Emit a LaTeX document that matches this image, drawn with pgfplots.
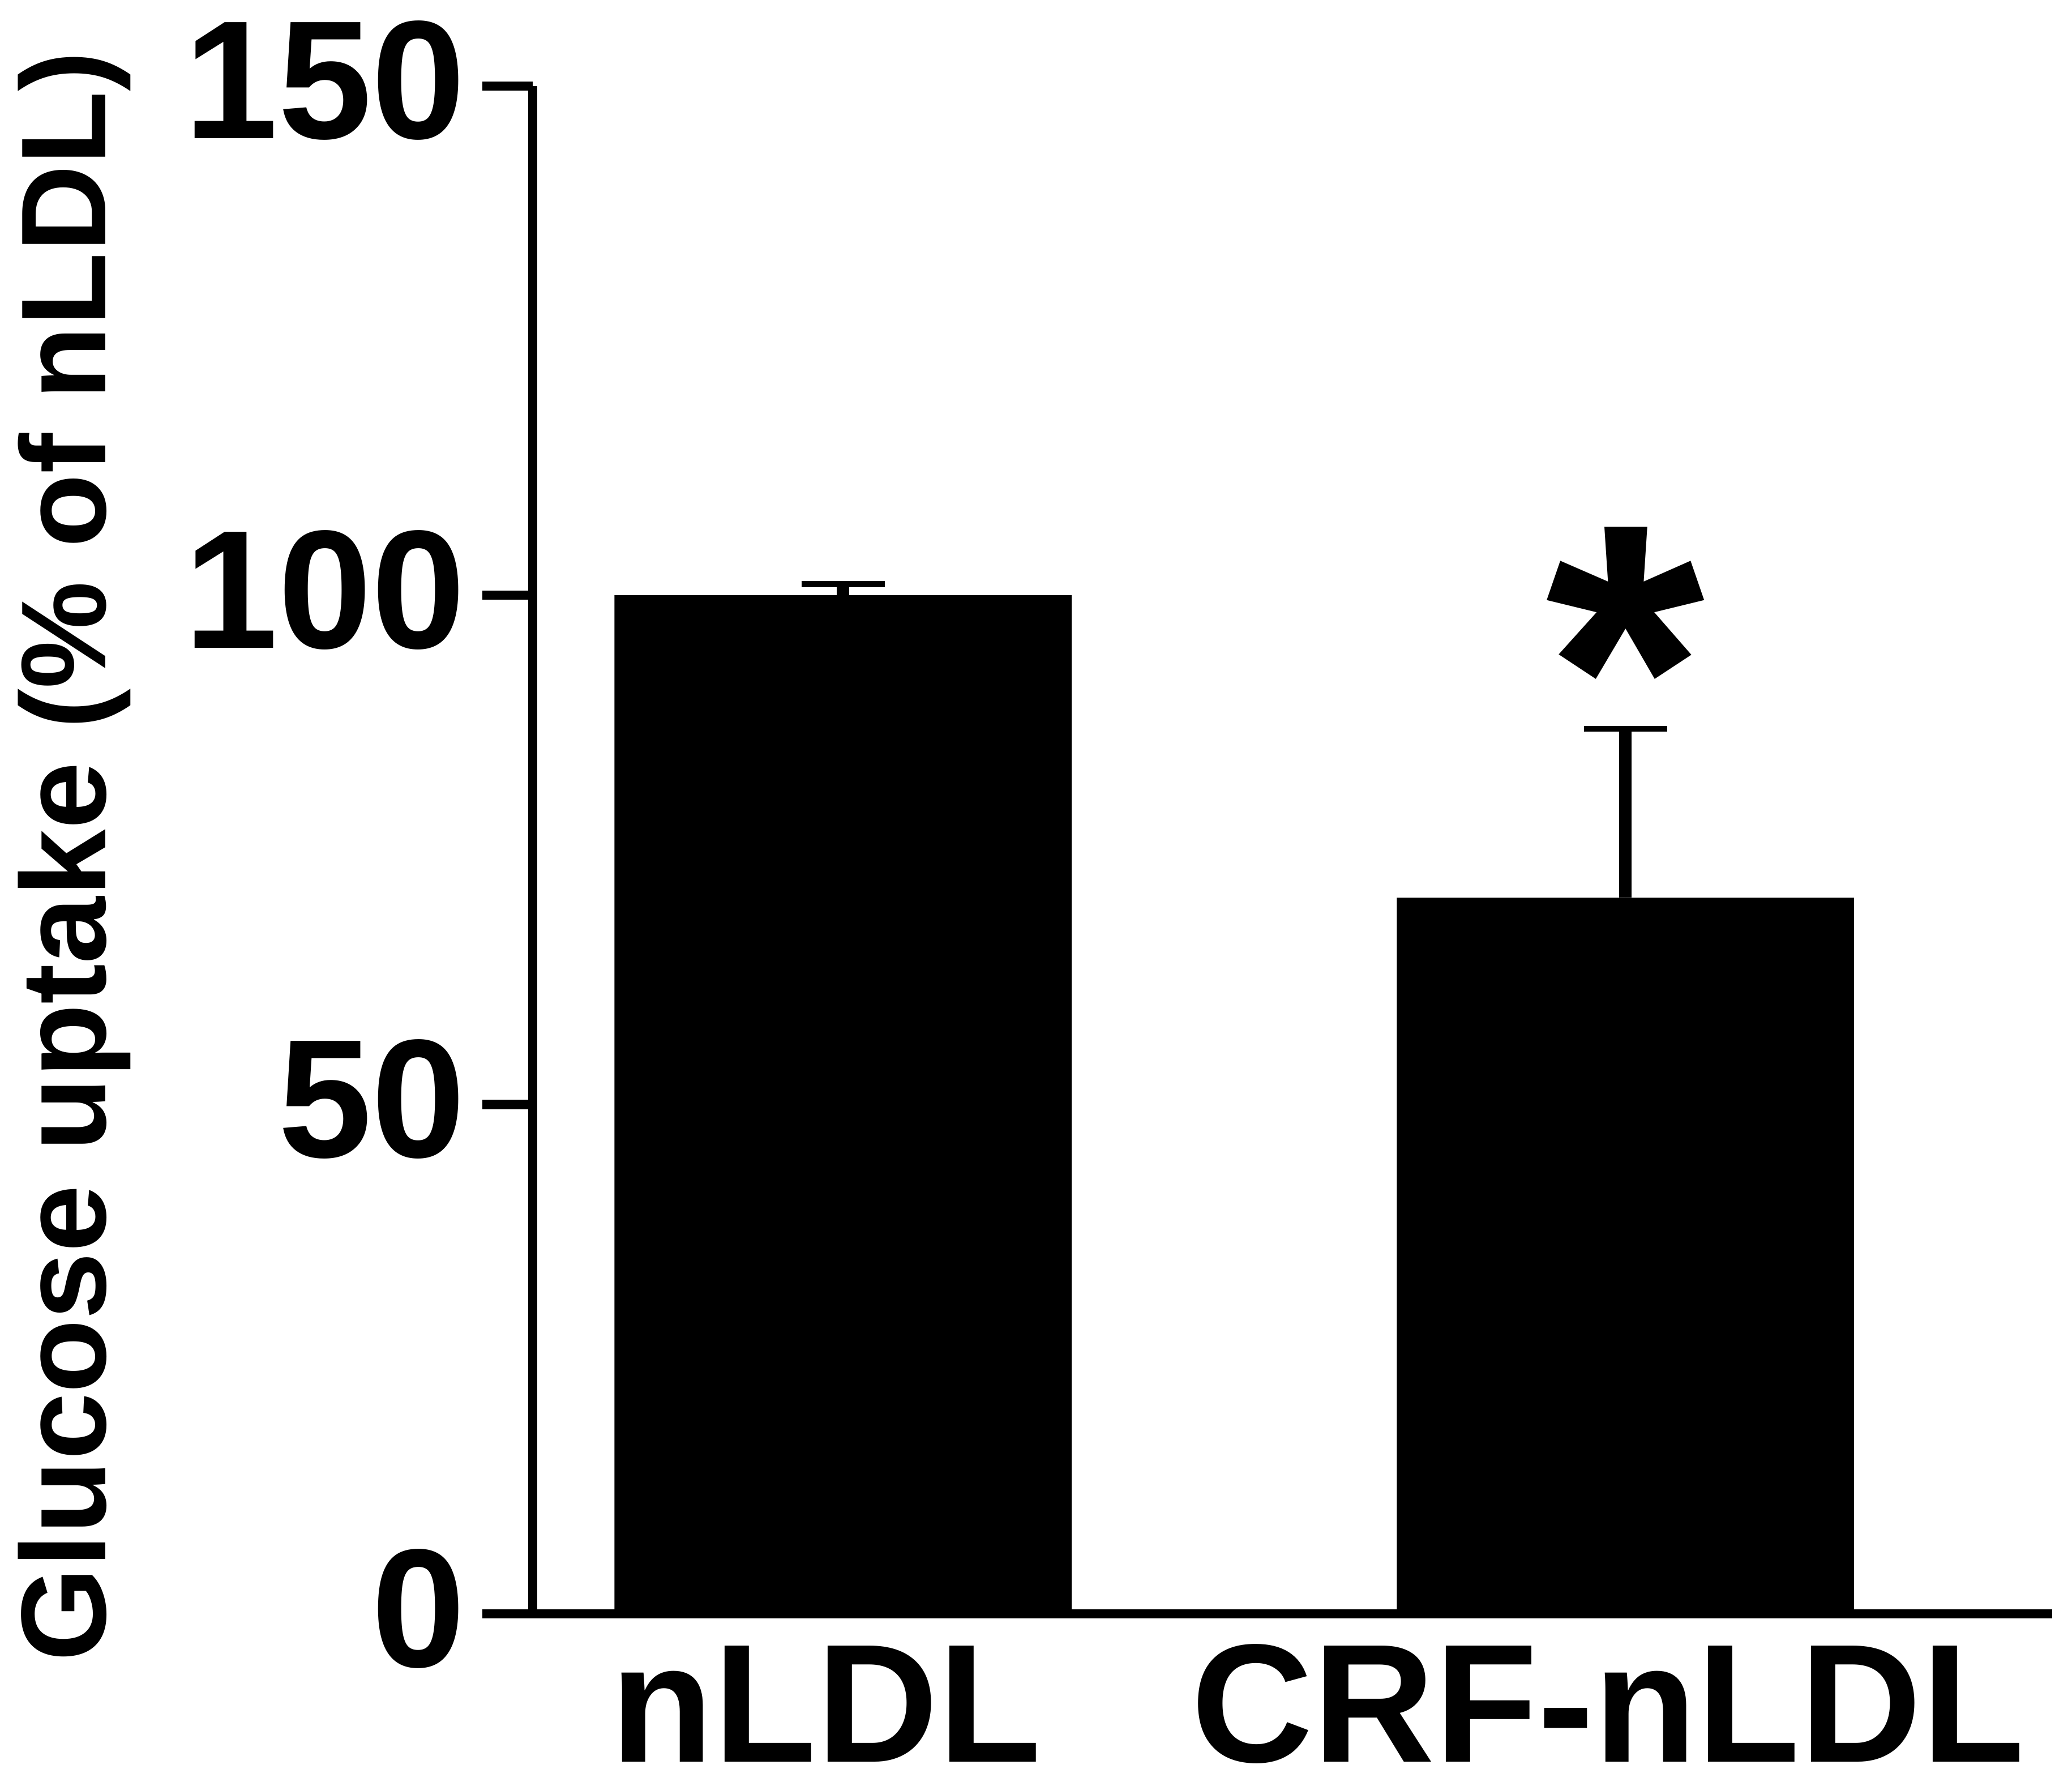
\documentclass[border=0pt]{standalone}
\usepackage{fontspec}
\setmainfont{Liberation Sans}
\usepackage{pgfplots}
\pgfplotsset{compat=1.18}
\begin{document}
\begin{tikzpicture}
\begin{axis}[
  scale only axis, width=115mm, height=115.6mm,
  xmin=0, xmax=1150, ymin=0, ymax=150,
  axis x line=bottom, axis y line=left,
  axis line style={-, line width=0.7mm, black},
  x axis line style={shorten <=-3.8mm},
  ytick={0,50,100,150},
  xtick={235,827}, xticklabels={nLDL, CRF-nLDL},
  tick align=outside, major tick length=3.8mm,
  ytick style={line width=0.7mm, black},
  xtick style={draw=none},
  /pgf/number format/assume math mode=true,
  tick label style={font=\fontsize{36.3}{42}\selectfont\bfseries},
  yticklabel style={anchor=east, inner sep=0pt, xshift=-1.2mm, yshift=0.4mm},
  xticklabel style={anchor=base, inner sep=0pt, yshift=-7.4mm, xshift=-1.3mm},
  ylabel={Glucose uptake (\% of nLDL)},
  ylabel style={font=\fontsize{26}{30}\selectfont\bfseries,
    at={(axis description cs:-0.281,0.4957)}, anchor=base, inner sep=0pt},
  clip=false,
]
\addplot[ybar, bar width=34.6mm, fill=black, draw=none,
  error bars/.cd, y dir=plus, y explicit,
  error bar style={draw=black, line width=0.95mm},
  error mark options={rotate=90, draw=black, line width=0.44mm, mark size=3.15mm}]
  coordinates {(235,100) +- (0,1.1) (827,70.3) +- (0,16.6)};
\node[anchor=north, inner sep=0pt, font=\fontsize{88}{96}\selectfont\bfseries]
  at (axis cs:827,106.8) {*};
\end{axis}
\pgfresetboundingbox
\path ([shift={(-40.3mm,-13mm)}]current axis.south west) rectangle ([shift={(116.5mm,122.1mm)}]current axis.south west);
\end{tikzpicture}
\end{document}
